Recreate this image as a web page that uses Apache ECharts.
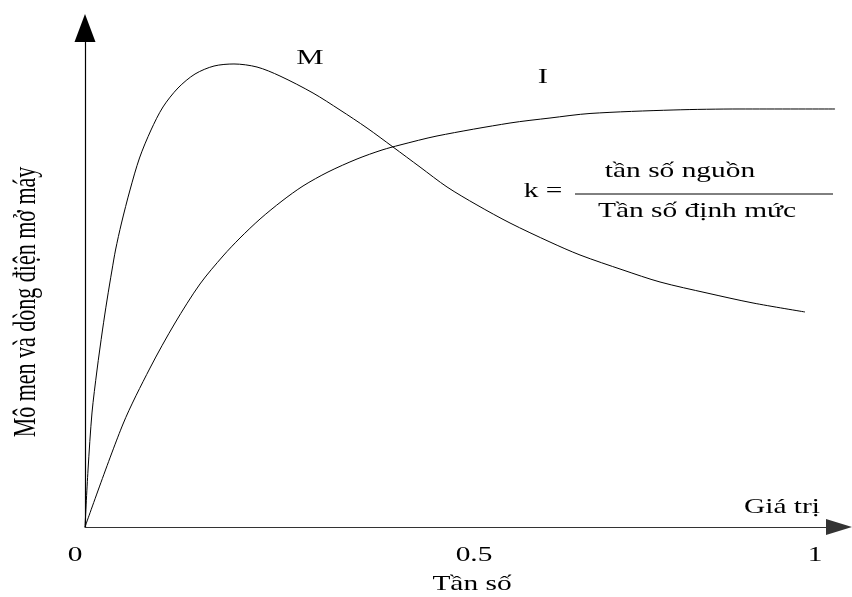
<!DOCTYPE html>
<html>
<head>
<meta charset="utf-8">
<script src="https://cdn.jsdelivr.net/npm/echarts@6/dist/echarts.min.js"></script>
<style>
html,body{margin:0;padding:0;background:#fff;}
#c{width:852px;height:597px;}
</style>
</head>
<body>
<div id="c"></div>
<script>
// Torque curve M (x = relative frequency, y = relative value)
const torqueX = [0, 0.0042, 0.0097, 0.0167, 0.0243, 0.0306, 0.0375, 0.0424, 0.0507, 0.0625, 0.0757, 0.0917, 0.1083, 0.1292, 0.1528, 0.1792, 0.2069, 0.2389, 0.2708, 0.3167, 0.3542, 0.3917, 0.4278, 0.4653, 0.5028, 0.5444, 0.5903, 0.6458, 0.6875, 0.7472, 0.7986, 0.8639, 0.9278, 1.0];
const torqueY = [0, 0.1142, 0.2285, 0.3146, 0.3948, 0.4549, 0.515, 0.5551, 0.6092, 0.6754, 0.7395, 0.7956, 0.8417, 0.8798, 0.9078, 0.9238, 0.9279, 0.9218, 0.9038, 0.8697, 0.8357, 0.7996, 0.7615, 0.7214, 0.6814, 0.6453, 0.6092, 0.5711, 0.5451, 0.515, 0.491, 0.4689, 0.4489, 0.4309];
// Starting current curve I
const currentX = [0, 0.0528, 0.0903, 0.125, 0.1597, 0.1917, 0.2153, 0.2431, 0.2736, 0.3028, 0.3375, 0.3778, 0.4125, 0.4375, 0.4889, 0.5903, 0.6458, 0.7014, 0.8167, 0.9097, 1.0417];
const currentY = [0, 0.2064, 0.3186, 0.4088, 0.487, 0.5431, 0.5792, 0.6172, 0.6533, 0.6834, 0.7114, 0.7375, 0.7555, 0.7655, 0.7836, 0.8096, 0.8196, 0.8287, 0.8357, 0.8377, 0.8377];

const xTickLabels = ['0', '0.5', '1'];
const xAxisTitle = 'Tần số';
const xAxisEndLabel = 'Giá trị';
const yAxisTitle = 'Mô men và dòng điện mở máy';
const curveLabels = ['M', 'I'];
const formulaLeft = 'k =';
const formulaTop = 'tần số nguồn';
const formulaBottom = 'Tần số định mức';

const FONT = '"Liberation Serif", "Times New Roman", serif';
function zip(a, b) { return a.map((v, i) => [v, b[i]]); }

function txt(text, x, y, size, weight, extra) {
  return Object.assign({
    type: 'text', x: x, y: y, scaleX: 1.4, scaleY: 1, z: 10,
    style: {
      text: text,
      font: (weight || 'normal') + ' ' + size + 'px ' + FONT,
      fill: '#000',
      align: 'center', verticalAlign: 'middle',
      textAlign: 'center', textVerticalAlign: 'middle'
    }
  }, extra || {});
}

const tickPx = [75, 474, 815];

const chart = echarts.init(document.getElementById('c'), null, { renderer: 'canvas' });
const option = {
  animation: false,
  backgroundColor: '#fff',
  grid: { left: 85, right: 13, top: 28, bottom: 70 },
  xAxis: {
    type: 'value', min: 0, max: 1.0472,
    axisLine: { show: true, symbol: ['none', 'triangle'], symbolSize: [16, 26], lineStyle: { color: '#333', width: 1.2 } },
    axisTick: { show: false }, axisLabel: { show: false }, splitLine: { show: false }
  },
  yAxis: {
    type: 'value', min: 0, max: 1,
    axisLine: { show: true, symbol: ['none', 'triangle'], symbolSize: [21, 28], lineStyle: { color: '#000', width: 1.2 } },
    axisTick: { show: false }, axisLabel: { show: false }, splitLine: { show: false }
  },
  series: [
    { name: curveLabels[0], type: 'line', data: zip(torqueX, torqueY), showSymbol: false, smooth: 0.3,
      lineStyle: { color: '#000', width: 1 } },
    { name: curveLabels[1], type: 'line', data: zip(currentX, currentY), showSymbol: false, smooth: 0.3,
      lineStyle: { color: '#000', width: 1 } }
  ],
  graphic: [
    ...xTickLabels.map((t, i) => txt(t, tickPx[i], 555, 21)),
    txt(xAxisTitle, 472, 584, 21),
    txt(xAxisEndLabel, 782, 507, 21),
    txt(curveLabels[0], 310, 58, 22),
    txt(curveLabels[1], 543, 77, 22),
    txt(formulaLeft, 543, 191, 21),
    txt(formulaTop, 680, 171, 21),
    txt(formulaBottom, 697, 211, 21),
    { type: 'line', z: 10, shape: { x1: 575, y1: 194, x2: 833, y2: 194 }, style: { stroke: '#000', lineWidth: 1 } },
    txt(yAxisTitle, 27, 302, 22, 'normal', { rotation: Math.PI / 2, scaleX: 1, scaleY: 1.4 })
  ]
};
chart.setOption(option);
</script>
</body>
</html>
